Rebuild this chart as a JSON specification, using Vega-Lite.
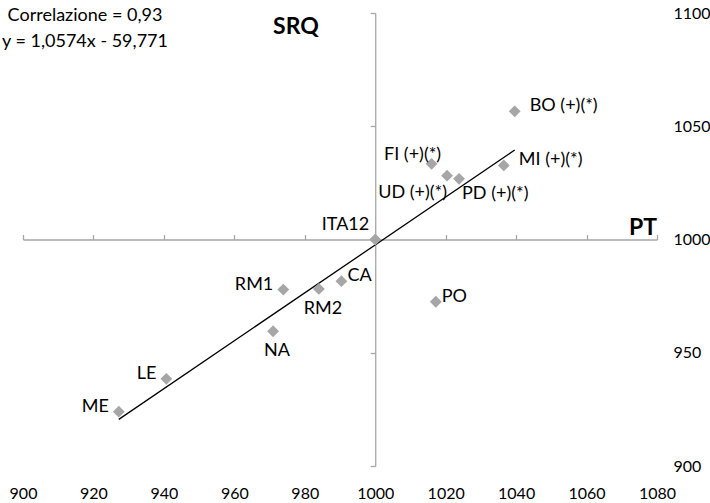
{
  "$schema": "https://vega.github.io/schema/vega-lite/v6.json",
  "width": 634,
  "height": 453,
  "autosize": {"type": "none"},
  "padding": {"left": 23, "top": 13, "right": 53, "bottom": 37},
  "config": {"view": {"stroke": null}, "font": "Lato", "axis": {"grid": false}},
  "datasets": {
    "cities": [
      {"city": "BO (+)(*)", "PT": 1039.6, "SRQ": 1056.6, "pos": "farright"},
      {"city": "FI (+)(*)", "PT": 1016.0, "SRQ": 1033.4, "pos": "above"},
      {"city": "UD (+)(*)", "PT": 1020.4, "SRQ": 1028.2, "pos": "belowleft"},
      {"city": "PD (+)(*)", "PT": 1023.8, "SRQ": 1026.8, "pos": "belowright"},
      {"city": "MI (+)(*)", "PT": 1036.5, "SRQ": 1032.7, "pos": "farright"},
      {"city": "ITA12", "PT": 1000.0, "SRQ": 1000.0, "pos": "aboveleft"},
      {"city": "PO", "PT": 1017.2, "SRQ": 972.5, "pos": "right"},
      {"city": "CA", "PT": 990.4, "SRQ": 981.6, "pos": "right"},
      {"city": "RM2", "PT": 984.0, "SRQ": 978.2, "pos": "below"},
      {"city": "RM1", "PT": 973.9, "SRQ": 977.9, "pos": "left"},
      {"city": "NA", "PT": 971.0, "SRQ": 959.5, "pos": "below"},
      {"city": "LE", "PT": 940.7, "SRQ": 938.5, "pos": "left"},
      {"city": "ME", "PT": 927.2, "SRQ": 924.0, "pos": "left"}
    ],
    "trend": [
      {"PT": 927.2, "SRQ": 920.6},
      {"PT": 1039.6, "SRQ": 1039.5}
    ],
    "notes": [
      {"note": "Correlazione = 0,93", "PT": 917.6, "SRQ": 1098.5, "kind": "eq"},
      {"note": "y = 1,0574x - 59,771", "PT": 917.6, "SRQ": 1087.4, "kind": "eq"},
      {"note": "SRQ", "PT": 977.5, "SRQ": 1094, "kind": "ytitle"},
      {"note": "PT", "PT": 1080, "SRQ": 1002.2, "kind": "xtitle"}
    ]
  },
  "encoding": {
    "x": {"field": "PT", "type": "quantitative", "scale": {"domain": [900, 1080], "nice": false, "zero": false}, "axis": null},
    "y": {"field": "SRQ", "type": "quantitative", "scale": {"domain": [900, 1100], "nice": false, "zero": false}, "axis": null}
  },
  "layer": [
    {
      "data": {"name": "trend"},
      "mark": {"type": "line", "color": "#000000", "strokeWidth": 1.3},
      "encoding": {
        "x": {"field": "PT", "type": "quantitative", "scale": {"domain": [900, 1080], "nice": false, "zero": false},
          "axis": {"orient": "top", "offset": {"expr": "-scale('y', 1000)"}, "values": [900, 920, 940, 960, 980, 1000, 1020, 1040, 1060, 1080], "labels": false, "title": null, "domainColor": "#A6A6A6", "tickColor": "#A6A6A6", "tickSize": 5, "domainWidth": 1.3, "tickWidth": 1.3}},
        "y": {"field": "SRQ", "type": "quantitative", "scale": {"domain": [900, 1100], "nice": false, "zero": false},
          "axis": {"orient": "left", "offset": {"expr": "-scale('x', 1000)"}, "values": [900, 950, 1000, 1050, 1100], "labels": false, "title": null, "domainColor": "#A6A6A6", "tickColor": "#A6A6A6", "tickSize": 5, "domainWidth": 1.3, "tickWidth": 1.3}}
      }
    },
    {
      "data": {"name": "cities"},
      "mark": {"type": "point", "shape": "diamond", "filled": true, "color": "#A6A6A6", "opacity": 1, "size": 140},
      "encoding": {
        "x": {"field": "PT", "type": "quantitative", "scale": {"domain": [900, 1080], "nice": false, "zero": false},
          "axis": {"orient": "bottom", "values": [900, 920, 940, 960, 980, 1000, 1020, 1040, 1060, 1080], "format": "d", "labelFlush": false, "labelOverlap": false, "domain": false, "ticks": false, "tickSize": 0, "labelPadding": 19, "labelFontSize": 16, "labelColor": "#000000", "labelFont": "Lato", "title": null}},
        "y": {"field": "SRQ", "type": "quantitative", "scale": {"domain": [900, 1100], "nice": false, "zero": false},
          "axis": {"orient": "right", "values": [900, 950, 1000, 1050, 1100], "format": "d", "labelFlush": false, "labelOverlap": false, "domain": false, "ticks": false, "tickSize": 0, "labelPadding": 16, "labelFontSize": 16, "labelColor": "#000000", "labelFont": "Lato", "title": null}}
      }
    },
    {
      "data": {"name": "cities"},
      "transform": [{"filter": "datum.pos === 'right'"}],
      "mark": {"type": "text", "align": "left", "baseline": "middle", "dx": 6, "dy": -5, "fontSize": 18, "color": "#000000"},
      "encoding": {"text": {"field": "city"}}
    },
    {
      "data": {"name": "cities"},
      "transform": [{"filter": "datum.pos === 'farright'"}],
      "mark": {"type": "text", "align": "left", "baseline": "middle", "dx": 15, "dy": -5, "fontSize": 18, "color": "#000000"},
      "encoding": {"text": {"field": "city"}}
    },
    {
      "data": {"name": "cities"},
      "transform": [{"filter": "datum.pos === 'left'"}],
      "mark": {"type": "text", "align": "right", "baseline": "middle", "dx": -10, "dy": -5, "fontSize": 18, "color": "#000000"},
      "encoding": {"text": {"field": "city"}}
    },
    {
      "data": {"name": "cities"},
      "transform": [{"filter": "datum.pos === 'below'"}],
      "mark": {"type": "text", "align": "center", "baseline": "middle", "dx": 4, "dy": 20, "fontSize": 18, "color": "#000000"},
      "encoding": {"text": {"field": "city"}}
    },
    {
      "data": {"name": "cities"},
      "transform": [{"filter": "datum.pos === 'above'"}],
      "mark": {"type": "text", "align": "center", "baseline": "middle", "dx": -19, "dy": -9, "fontSize": 18, "color": "#000000"},
      "encoding": {"text": {"field": "city"}}
    },
    {
      "data": {"name": "cities"},
      "transform": [{"filter": "datum.pos === 'aboveleft'"}],
      "mark": {"type": "text", "align": "right", "baseline": "middle", "dx": -6, "dy": -15, "fontSize": 18, "color": "#000000"},
      "encoding": {"text": {"field": "city"}}
    },
    {
      "data": {"name": "cities"},
      "transform": [{"filter": "datum.pos === 'belowleft'"}],
      "mark": {"type": "text", "align": "right", "baseline": "middle", "dx": 0, "dy": 17, "fontSize": 18, "color": "#000000"},
      "encoding": {"text": {"field": "city"}}
    },
    {
      "data": {"name": "cities"},
      "transform": [{"filter": "datum.pos === 'belowright'"}],
      "mark": {"type": "text", "align": "left", "baseline": "middle", "dx": 3, "dy": 15, "fontSize": 18, "color": "#000000"},
      "encoding": {"text": {"field": "city"}}
    },
    {
      "data": {"name": "notes"},
      "transform": [{"filter": "datum.kind === 'eq'"}],
      "mark": {"type": "text", "align": "center", "baseline": "middle", "fontSize": 18, "color": "#000000"},
      "encoding": {"text": {"field": "note"}}
    },
    {
      "data": {"name": "notes"},
      "transform": [{"filter": "datum.kind === 'ytitle'"}],
      "mark": {"type": "text", "align": "center", "baseline": "middle", "fontSize": 23, "fontWeight": "bold", "color": "#000000"},
      "encoding": {"text": {"field": "note"}}
    },
    {
      "data": {"name": "notes"},
      "transform": [{"filter": "datum.kind === 'xtitle'"}],
      "mark": {"type": "text", "align": "right", "baseline": "alphabetic", "fontSize": 23, "fontWeight": "bold", "color": "#000000"},
      "encoding": {"text": {"field": "note"}}
    }
  ],
  "resolve": {"axis": {"x": "independent", "y": "independent"}}
}
